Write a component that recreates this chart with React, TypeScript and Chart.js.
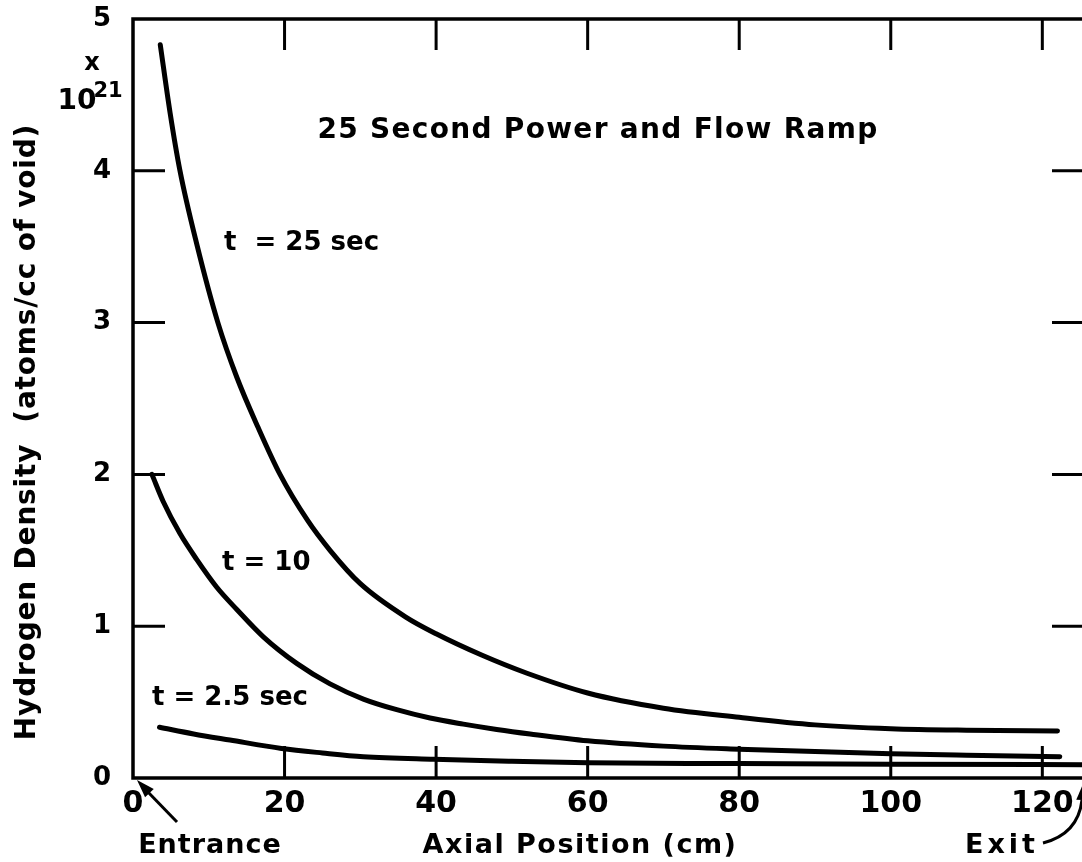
import React, { useEffect, useRef } from "react";
import { Chart, registerables } from "chart.js";

Chart.register(...registerables);

// Axis ticks
const X_TICKS = [0, 20, 40, 60, 80, 100, 120];
const Y_TICKS = [0, 1, 2, 3, 4, 5];
const X_MAX = 125.5;
const Y_MAX = 5;

// Hydrogen density (x 10^21 atoms/cc of void) along the channel
const T25_X = [3.6, 4.9, 6.2, 8.4, 11.2, 13.7, 16.5, 19.4, 23, 26, 30, 36, 40, 46, 52, 60, 70, 80, 90, 100, 110, 122];
const T25_Y = [4.83, 4.38, 4.0, 3.52, 3.0, 2.64, 2.31, 2.0, 1.7, 1.5, 1.28, 1.06, 0.95, 0.81, 0.69, 0.56, 0.46, 0.4, 0.35, 0.325, 0.315, 0.31];

const T10_X = [2.5, 4, 6.2, 8.4, 11, 13.7, 17.2, 21.6, 26, 30.4, 34.8, 39.2, 43.6, 48, 52.4, 60, 70, 80, 90, 100, 110, 122.3];
const T10_Y = [2.0, 1.82, 1.61, 1.44, 1.26, 1.11, 0.93, 0.755, 0.62, 0.52, 0.45, 0.395, 0.355, 0.32, 0.29, 0.245, 0.21, 0.19, 0.175, 0.16, 0.15, 0.14];

const T2_X = [3.5, 8, 12.8, 19.6, 25, 30.4, 39.7, 50, 60, 80, 100, 125.5];
const T2_Y = [0.334, 0.29, 0.25, 0.195, 0.165, 0.14, 0.123, 0.11, 0.1, 0.095, 0.09, 0.088];

const SERIES_NAMES = ["t = 25 sec", "t = 10", "t = 2.5 sec"];

const TITLE = "25 Second Power and Flow Ramp";
const X_TITLE = "Axial Position (cm)";
const Y_TITLE = "Hydrogen Density  (atoms/cc of void)";

const FONT = "'DejaVu Sans', sans-serif";

const toPoints = (xs: number[], ys: number[]) => xs.map((x, i) => ({ x, y: ys[i] }));

function text(
  ctx: CanvasRenderingContext2D,
  s: string,
  x: number,
  y: number,
  size: number,
  align: CanvasTextAlign = "center",
  spacing = 0
) {
  ctx.font = `bold ${size}px ${FONT}`;
  (ctx as any).letterSpacing = `${spacing}px`;
  ctx.textAlign = align;
  ctx.textBaseline = "middle";
  ctx.fillText(s, x, y);
  (ctx as any).letterSpacing = "0px";
}

function arrowHead(ctx: CanvasRenderingContext2D, tipX: number, tipY: number, fromX: number, fromY: number, len: number, half: number) {
  const a = Math.atan2(tipY - fromY, tipX - fromX);
  const bx = tipX - len * Math.cos(a);
  const by = tipY - len * Math.sin(a);
  ctx.beginPath();
  ctx.moveTo(tipX, tipY);
  ctx.lineTo(bx + half * Math.sin(a), by - half * Math.cos(a));
  ctx.lineTo(bx - half * Math.sin(a), by + half * Math.cos(a));
  ctx.closePath();
  ctx.fill();
}

const framePlugin = {
  id: "frameAndNotes",
  afterDraw(chart: any) {
    const { ctx, chartArea: a, scales } = chart;
    const xs = scales.x;
    const ys = scales.y;
    ctx.save();
    ctx.strokeStyle = "#000";
    ctx.fillStyle = "#000";
    ctx.lineCap = "butt";

    // frame
    ctx.lineWidth = 3.5;
    ctx.strokeRect(a.left, a.top, a.right - a.left, a.bottom - a.top);

    // inward ticks
    ctx.lineWidth = 3;
    ctx.beginPath();
    X_TICKS.filter((v) => v > 0).forEach((v) => {
      const px = xs.getPixelForValue(v);
      ctx.moveTo(px, a.bottom);
      ctx.lineTo(px, a.bottom - 32);
      ctx.moveTo(px, a.top);
      ctx.lineTo(px, a.top + 31);
    });
    Y_TICKS.filter((v) => v > 0 && v < Y_MAX).forEach((v) => {
      const py = ys.getPixelForValue(v);
      ctx.moveTo(a.left, py);
      ctx.lineTo(a.left + 32, py);
      ctx.moveTo(a.right, py);
      ctx.lineTo(a.right - 32, py);
    });
    ctx.stroke();

    // titles
    text(ctx, TITLE, 598, 131, 28, "center", 1.3);
    text(ctx, X_TITLE, 580, 846, 27, "center", 1.5);
    ctx.save();
    ctx.translate(28, 432);
    ctx.rotate(-Math.PI / 2);
    text(ctx, Y_TITLE, 0, 0, 28, "center", 0.8);
    ctx.restore();

    // exponent marker
    text(ctx, "x", 92, 64, 24, "center");
    text(ctx, "10", 77, 102, 28, "center");
    text(ctx, "21", 108, 92, 21, "center");

    // curve labels
    text(ctx, "t  = 25 sec", 224, 243, 26, "left");
    text(ctx, SERIES_NAMES[1], 222, 563, 26, "left");
    text(ctx, SERIES_NAMES[2], 152, 698, 26, "left");

    // entrance / exit
    text(ctx, "Entrance", 210, 846, 27, "center", 1);
    text(ctx, "Exit", 1002, 846, 27, "center", 4);

    ctx.lineWidth = 3;
    ctx.beginPath();
    ctx.moveTo(177, 822);
    ctx.lineTo(146, 790);
    ctx.stroke();
    arrowHead(ctx, 137, 780, 177, 822, 18, 6);

    ctx.beginPath();
    ctx.moveTo(1043, 843);
    ctx.quadraticCurveTo(1078, 834, 1082, 800);
    ctx.stroke();
    arrowHead(ctx, 1083, 784, 1082, 806, 16, 6);

    ctx.restore();
  },
};

export default function App() {
  const ref = useRef<HTMLCanvasElement>(null);

  useEffect(() => {
    const line = (data: { x: number; y: number }[], label: string) => ({
      label,
      data,
      borderColor: "#000",
      backgroundColor: "#000",
      borderWidth: 5,
      pointRadius: 0,
      fill: false,
      cubicInterpolationMode: "monotone" as const,
      borderCapStyle: "round" as const,
    });

    const chart = new Chart(ref.current!, {
      type: "line",
      data: {
        datasets: [
          line(toPoints(T25_X, T25_Y), SERIES_NAMES[0]),
          line(toPoints(T10_X, T10_Y), SERIES_NAMES[1]),
          line(toPoints(T2_X, T2_Y), SERIES_NAMES[2]),
        ],
      },
      options: {
        responsive: false,
        animation: false,
        devicePixelRatio: 1,
        layout: { padding: { left: 0, right: 16, top: 19, bottom: 0 } },
        plugins: { legend: { display: false }, tooltip: { enabled: false } },
        scales: {
          x: {
            type: "linear",
            min: 0,
            max: X_MAX,
            afterBuildTicks: (s: any) => {
              s.ticks = X_TICKS.map((value) => ({ value }));
            },
            afterFit: (s: any) => {
              s.height = 84;
              s.paddingLeft = 0;
              s.paddingRight = 0;
            },
            grid: { display: false, drawTicks: false },
            border: { display: false },
            ticks: {
              color: "#000",
              padding: 8,
              maxRotation: 0,
              autoSkip: false,
              font: { family: FONT, size: 30, weight: "bold" },
            },
          },
          y: {
            type: "linear",
            min: 0,
            max: Y_MAX,
            afterBuildTicks: (s: any) => {
              s.ticks = Y_TICKS.map((value) => ({ value }));
            },
            afterFit: (s: any) => {
              s.width = 133;
              s.paddingTop = 0;
              s.paddingBottom = 0;
            },
            grid: { display: false, drawTicks: false },
            border: { display: false },
            ticks: {
              color: "#000",
              padding: 22,
              crossAlign: "center",
              font: { family: FONT, size: 26, weight: "bold" },
            },
          },
        },
      },
      plugins: [framePlugin],
    });

    return () => chart.destroy();
  }, []);

  return (
    <div
      style={{
        position: "fixed",
        left: 0,
        top: 0,
        width: 1082,
        height: 862,
        overflow: "hidden",
        background: "#fff",
      }}
    >
      <canvas ref={ref} width={1100} height={862} style={{ display: "block", width: 1100, height: 862 }} />
    </div>
  );
}
